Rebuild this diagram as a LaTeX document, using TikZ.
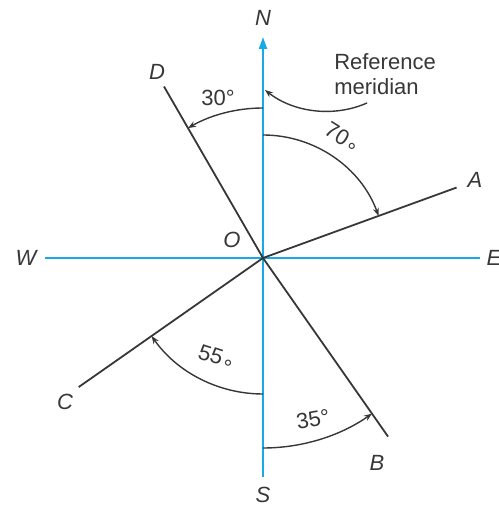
\documentclass[tikz,border=0pt]{standalone}
\usepackage{fontspec}
\setmainfont{Liberation Sans}
\usetikzlibrary{arrows.meta}
\definecolor{axisblue}{RGB}{25,170,230}
\definecolor{linegray}{RGB}{55,55,55}
\newcommand{\lowdeg}{\kern1.2pt\raisebox{-0.35em}{°}}

\begin{document}
\begin{tikzpicture}[x=0.5pt, y=0.5pt,
    every node/.style={font=\fontsize{11}{12.5}\selectfont, text=linegray},
    pt/.style={font=\fontsize{11}{12.5}\selectfont\itshape},
    axis/.style={axisblue, line width=1pt},
    ray/.style={linegray, line width=0.9pt},
    anglearc/.style={linegray, line width=0.7pt, -{Stealth[length=4pt,width=3pt]}}]
      \useasboundingbox (-263,-248) rectangle (235,258);
      \coordinate (O) at (0,0);
      \coordinate (n) at (0,221);
      \coordinate (s) at (0,-219);
      \coordinate (w) at (-218,0);
      \coordinate (e) at (217,0);
      \coordinate (a) at (20:206);
      \coordinate (b) at (305:218);
      \coordinate (c) at (215:225);
      \coordinate (d) at (120:198);
      \node[pt] (N) at (0,240) {N};
      \node[pt] (S) at (0,-237) {S};
      \node[pt] (W) at (-237,0) {W};
      \node[pt] (E) at (231,0) {E};
      \node[pt] (A) at (212,78) {A};
      \node[pt] (B) at (114,-205) {B};
      \node[pt] (C) at (-198,-144) {C};
      \node[pt] (D) at (-106,186) {D};
      \node[pt] (Olab) at (-31,18) {O};
      \draw[axis, -{Triangle[length=6pt,width=4pt]}] (s) -- (n);
      \draw[axis] (w) -- (e);
      \draw[ray] (O) -- (a);
      \draw[ray] (O) -- (b);
      \draw[ray] (O) -- (c);
      \draw[ray] (O) -- (d);
      \draw[anglearc] (90:150) arc[start angle=90, end angle=120, radius=150];
      \draw[anglearc] (90:123) arc[start angle=90, end angle=20, radius=123];
      \draw[anglearc] (270:136) arc[start angle=270, end angle=215, radius=136];
      \draw[anglearc] (270:190) arc[start angle=270, end angle=305, radius=190];
      \node (t30) at (-45,160) {30°};
      \node[rotate=-32] (t70) at (77,118) {70\lowdeg};
      \node[rotate=-18] (t55) at (-48,-102) {55\lowdeg};
      \node[rotate=10] (t35) at (50,-161) {35°};
      \node[align=left] (ref) at (122,184) {Reference\\meridian};
      \coordinate (reftail) at (104,155);
      \coordinate (refhead) at (2,168);
      \draw[anglearc] (reftail) .. controls (70,140) and (30,146) .. (refhead);
\end{tikzpicture}
\end{document}
